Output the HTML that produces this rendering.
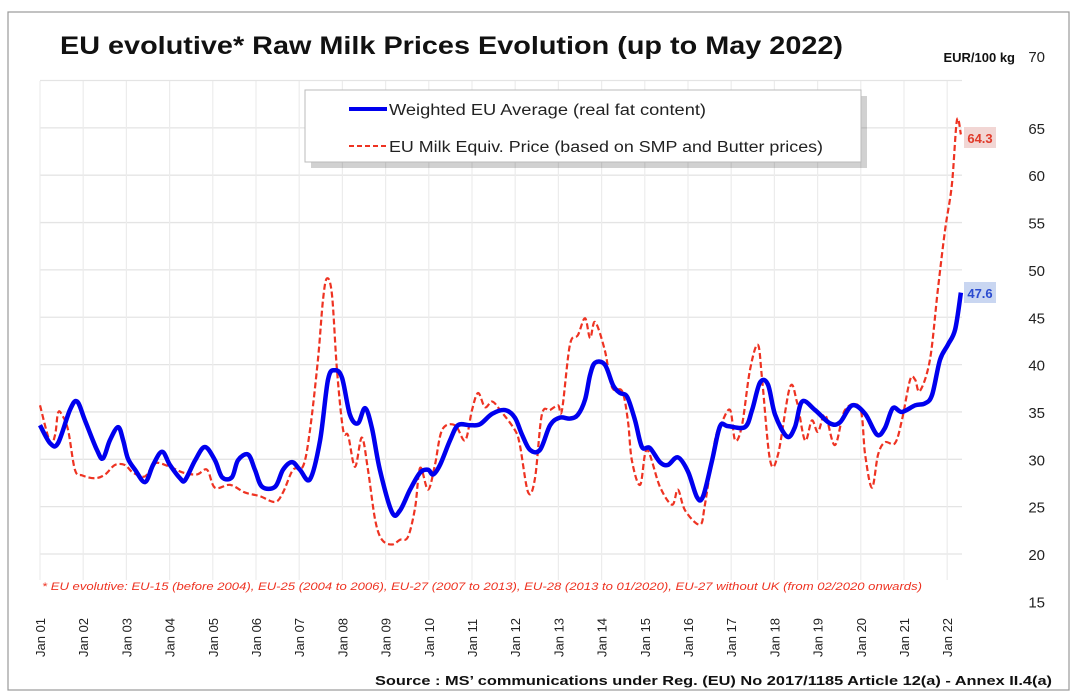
<!DOCTYPE html>
<html><head><meta charset="utf-8"><style>
body{margin:0;background:#fff;}
svg{display:block;font-family:"Liberation Sans",sans-serif;}
</style></head><body>
<svg id="chart" width="1080" height="699" viewBox="0 0 1080 699">
<rect x="8" y="12" width="1061" height="678" fill="#fff" stroke="#999" stroke-width="1.2"/>
<text x="60" y="54" font-size="25" font-weight="bold" fill="#111" textLength="783" lengthAdjust="spacingAndGlyphs">EU evolutive* Raw Milk Prices Evolution (up to May 2022)</text>
<text x="1015" y="62" font-size="13" font-weight="bold" fill="#111" text-anchor="end">EUR/100 kg</text>
<g id="grid"></g>
<g id="ylabels"></g>
<g id="xlabels"></g>
<g id="series"></g>
<g>
<rect x="308" y="93" width="556" height="72" fill="#000" opacity="0.18" transform="translate(3,3)"/>
<rect x="305" y="90" width="556" height="72" fill="#fff" stroke="#bbb"/>
<line x1="349" y1="109" x2="387" y2="109" stroke="#0000ee" stroke-width="4"/>
<text x="389" y="115" font-size="15.5" fill="#222" textLength="317" lengthAdjust="spacingAndGlyphs">Weighted EU Average (real fat content)</text>
<line x1="349" y1="146" x2="387" y2="146" stroke="#ee3322" stroke-width="2" stroke-dasharray="5,3"/>
<text x="389" y="152" font-size="15.5" fill="#222" textLength="434" lengthAdjust="spacingAndGlyphs">EU Milk Equiv. Price (based on SMP and Butter prices)</text>
</g>
<rect x="964" y="127" width="32" height="21" fill="#f2d6d4"/>
<text x="980" y="143" font-size="13" font-weight="bold" fill="#e03a2a" text-anchor="middle">64.3</text>
<rect x="964" y="282" width="32" height="21" fill="#c9d6f1"/>
<text x="980" y="298" font-size="13" font-weight="bold" fill="#2a4bd0" text-anchor="middle">47.6</text>
<text x="42" y="590" font-size="11" font-style="italic" fill="#ee3322" textLength="880" lengthAdjust="spacingAndGlyphs">* EU evolutive: EU-15 (before 2004), EU-25 (2004 to 2006), EU-27 (2007 to 2013), EU-28 (2013 to 01/2020), EU-27 without UK (from 02/2020 onwards)</text>
<text x="375" y="685" font-size="13" font-weight="bold" fill="#111" textLength="677" lengthAdjust="spacingAndGlyphs">Source : MS’ communications under Reg. (EU) No 2017/1185 Article 12(a) - Annex II.4(a)</text>
</svg>
<script>
const yTicks=[15,20,25,30,35,40,45,50,55,60,65,70];
const xTickLabels=["Jan 01","Jan 02","Jan 03","Jan 04","Jan 05","Jan 06","Jan 07","Jan 08","Jan 09","Jan 10","Jan 11","Jan 12","Jan 13","Jan 14","Jan 15","Jan 16","Jan 17","Jan 18","Jan 19","Jan 20","Jan 21","Jan 22"];
// months since Jan 2001
const weightedMonths=[0,2.8,5,8.3,10.3,12.5,15.8,17.5,19.4,21.7,23.1,24.4,26.4,29.2,31.4,33.9,36.1,38.9,40.3,43.1,45.8,48.6,50.6,53.3,55,57.8,59.7,61.7,65.3,67.5,70,72.2,75,77.8,80,81.9,83.9,86.1,88.3,90.3,92.2,94.4,97.8,100,102.8,105.6,107.8,109.2,111.1,113.9,116.1,119.4,122.2,125.6,129.2,131.9,133.9,136.1,138.9,141.7,144.4,147.2,149.4,151.4,152.8,154.2,156.9,159.2,161.1,163.1,165.3,167.2,169.4,172.2,174.4,177.2,180,182.5,184.2,186.7,188.9,191.1,195.8,197.8,200,202.2,204.2,207.5,209.7,211.7,215.3,219.4,222.2,225.6,229.2,232.5,234.7,236.9,239.4,243.1,245.8,247.8,250,252.2,254.2,255.8];
const weightedValues=[33.6,31.7,31.7,35.2,36.1,34.1,31,30.1,32,33.4,32,30.1,28.9,27.6,29.4,30.8,29.4,28,27.8,29.9,31.3,29.9,28.1,28.1,29.9,30.5,28.9,27.1,27.1,28.9,29.7,28.9,27.9,32,38.4,39.4,38.6,34.7,33.8,35.4,33.3,28.9,24.4,24.6,26.8,28.6,28.9,28.4,29.4,32,33.6,33.6,33.7,34.8,35.2,34.4,32.6,31,31,33.6,34.4,34.3,34.7,36.3,38.9,40.2,40,37.8,37,36.6,34.1,31.3,31.2,29.7,29.4,30.2,28.7,26,26.1,29.9,33.5,33.5,33.4,35.2,38.1,37.9,34.7,32.4,33.4,36.1,35.2,33.8,33.9,35.7,34.8,32.6,33.3,35.4,35,35.7,35.9,36.8,40.5,42.1,43.7,47.6];
const equivMonths=[0,2.8,4.2,5,6.1,7.8,9.7,11.7,15.3,18.1,20.8,23.6,25.8,29.2,31.9,36.1,39.7,43.6,46.4,48.6,52.8,56.9,61.1,65.3,67.5,70.3,73.1,75,77.2,78.6,79.7,81.1,82.5,84.2,85.6,87.5,89.4,91.1,93.1,95,97.8,100,102.2,104.2,105.6,107.8,109.7,111.7,115.3,118.1,120,121.7,123.6,125.6,127.8,131.9,133.3,135.6,137.5,139.4,141.7,143.9,145,147.2,149.4,151.4,152.8,154.2,156.9,158.9,161.7,163.3,164.4,166.7,168.6,172.2,175.6,177.2,179.2,183.3,184.7,187.5,189.4,191.7,193.1,195,197.2,199.4,200.6,202.8,205,208.3,210.3,212.5,214.4,216.1,218.1,220.8,223.6,227.8,229.2,231.1,232.8,234.7,237.5,239.4,241.7,243.1,244.4,247.2,249.4,251.4,253.3,254.7,255.8];
const equivValues=[35.7,31.8,32.6,34.9,34.7,33.1,28.9,28.3,28,28.4,29.4,29.4,28.6,28.2,29.6,29.2,28.6,28.4,28.9,27,27.3,26.5,26.1,25.5,26.5,28.9,29.3,33.1,40.5,46.8,49.1,47.4,39.4,33.1,32.5,29.2,32.3,28.9,23.6,21.5,21,21.5,21.8,24.9,29.1,26.8,29.4,33.1,33.6,32,35.2,37,35.5,36.1,35.2,33.1,31.5,26.5,28,34.7,35.2,35.7,35.2,42.1,43.1,44.9,42.8,44.5,41.5,37.6,37.2,34.1,29.9,27.3,31,27.1,25.2,26.8,24.6,23.1,25.2,32,33.9,35.2,32,33.6,39.4,42.1,38.4,29.9,30.5,37.6,36,32,34.1,32.9,34.7,31.5,35.2,35.4,30.5,27,30.5,31.8,31.7,34.1,38.4,38.4,37.2,40.5,47.9,54.2,59,65.8,64.3];
</script>
<script>
const NS="http://www.w3.org/2000/svg";
const X0=40,PX_PER_YEAR=43.2,YREF=554,PX_PER_UNIT=9.47,PLOT_R=962;
function xScale(m){return X0+m*PX_PER_YEAR/12;}
function yScale(v){return YREF-(v-20)*PX_PER_UNIT;}
function mk(tag,attrs,parent){const e=document.createElementNS(NS,tag);for(const k in attrs)e.setAttribute(k,attrs[k]);parent.appendChild(e);return e;}
const grid=document.getElementById('grid'),yl=document.getElementById('ylabels'),xl=document.getElementById('xlabels'),ser=document.getElementById('series');
yTicks.forEach(t=>{
  if(t>=20){const l=mk('line',{x1:X0,x2:PLOT_R,y1:yScale(t),y2:yScale(t),stroke:'#e4e4e4','stroke-width':1.3},grid);
  
  }
  const tx=mk('text',{x:1045,y:(t===70?62:yScale(t)+6),'font-size':15,fill:'#222','text-anchor':'end'},yl);
  tx.textContent=t;
  
  
});
xTickLabels.forEach((lab,i)=>{
  const x=xScale(i*12);
  const l=mk('line',{x1:x,x2:x,y1:81,y2:580,stroke:'#ececec','stroke-width':1.2},grid);
  
  
  const tx=mk('text',{x:0,y:0,'font-size':13,fill:'#222','text-anchor':'start',transform:`translate(${x+5},657) rotate(-90)`},xl);
  tx.textContent=lab;
  
  
});
function smoothPath(ms,vs){
  const n=Math.min(ms.length,vs.length);
  const p=[];for(let i=0;i<n;i++)p.push([xScale(ms[i]),yScale(vs[i])]);
  let d=`M${p[0][0]},${p[0][1]}`;
  for(let i=0;i<p.length-1;i++){
    const p0=p[i-1]||p[i],p1=p[i],p2=p[i+1],p3=p[i+2]||p2;
    const c1=[p1[0]+(p2[0]-p0[0])/6,p1[1]+(p2[1]-p0[1])/6],c2=[p2[0]-(p3[0]-p1[0])/6,p2[1]-(p3[1]-p1[1])/6];
    d+=`C${c1[0]},${c1[1]} ${c2[0]},${c2[1]} ${p2[0]},${p2[1]}`;
  }
  return d;
}
const eq=mk('path',{d:smoothPath(equivMonths,equivValues),fill:'none',stroke:'#ee3322','stroke-width':2.2,'stroke-dasharray':'6,3'},ser);


const wl=mk('path',{d:smoothPath(weightedMonths,weightedValues),fill:'none',stroke:'#0000ee','stroke-width':4.5,'stroke-linejoin':'round'},ser);


</script>
</body></html>
